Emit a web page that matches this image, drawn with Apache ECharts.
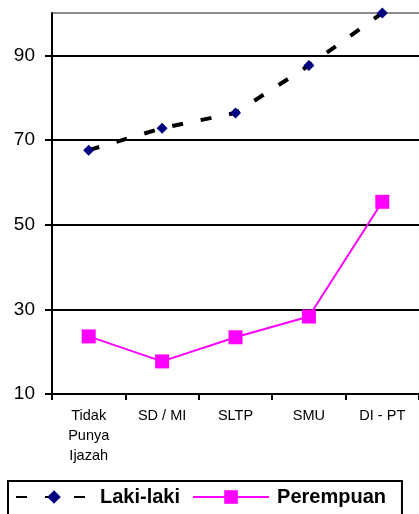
<!DOCTYPE html>
<html>
<head>
<meta charset="utf-8">
<script src="https://cdn.jsdelivr.net/npm/echarts@6/dist/echarts.min.js"></script>
<style>
  html, body { margin: 0; padding: 0; background: #fff; }
  #chart { width: 419px; height: 514px; }
</style>
</head>
<body>
<div id="chart"></div>
<script>
// Education levels on the category axis
const categories = ['Tidak\nPunya\nIjazah', 'SD / MI', 'SLTP', 'SMU', 'DI - PT'];
// Series values
const lakiLaki = [67.6, 72.8, 76.4, 87.6, 100];
const perempuan = [23.6, 17.7, 23.4, 28.3, 55.4];
// Value axis range
const yMin = 10;
const yMax = 100;
const yStep = 20;

const chart = echarts.init(document.getElementById('chart'), null, { renderer: 'canvas' });

chart.setOption({
  animation: false,
  backgroundColor: '#ffffff',
  textStyle: { fontFamily: 'Arial, "Liberation Sans", sans-serif' },
  grid: { left: 52, top: 13, width: 370, height: 381, containLabel: false },
  xAxis: {
    type: 'category',
    data: categories,
    boundaryGap: true,
    axisLine: { lineStyle: { color: '#000', width: 2 } },
    axisTick: { show: true, length: 6, lineStyle: { color: '#000', width: 2 } },
    axisLabel: { color: '#000', fontSize: 14.5, lineHeight: 20, margin: 12, interval: 0 },
    splitLine: { show: false }
  },
  yAxis: {
    type: 'value',
    min: yMin,
    max: yMax,
    interval: yStep,
    axisLine: { show: true, lineStyle: { color: '#000', width: 2 } },
    axisTick: { show: true, length: 7, lineStyle: { color: '#000', width: 2 } },
    axisLabel: { color: '#000', fontSize: 19, margin: 17, showMaxLabel: false },
    splitLine: {
      show: true,
      lineStyle: { color: ['#000', '#000', '#000', '#000', '#000', '#8c8c8c'], width: 2 }
    }
  },
  legend: {
    left: 8,
    top: 481,
    padding: [6, 16, 14, 7],
    borderColor: '#000',
    borderWidth: 2,
    itemWidth: 76,
    itemHeight: 17,
    itemGap: 12,
    textStyle: { color: '#000', fontSize: 20, fontWeight: 'bold', padding: [0, 0, 0, 3] },
    data: ['Laki-laki', 'Perempuan']
  },
  series: [
    {
      name: 'Laki-laki',
      type: 'line',
      data: lakiLaki,
      symbol: 'diamond',
      symbolSize: 11,
      itemStyle: { color: '#000080' },
      lineStyle: { color: '#000', width: 4, type: [11, 18] },
      z: 3
    },
    {
      name: 'Perempuan',
      type: 'line',
      data: perempuan,
      symbol: 'rect',
      symbolSize: 14,
      itemStyle: { color: '#ff00ff' },
      lineStyle: { color: '#ff00ff', width: 2 },
      z: 2
    }
  ]
});
</script>
</body>
</html>
